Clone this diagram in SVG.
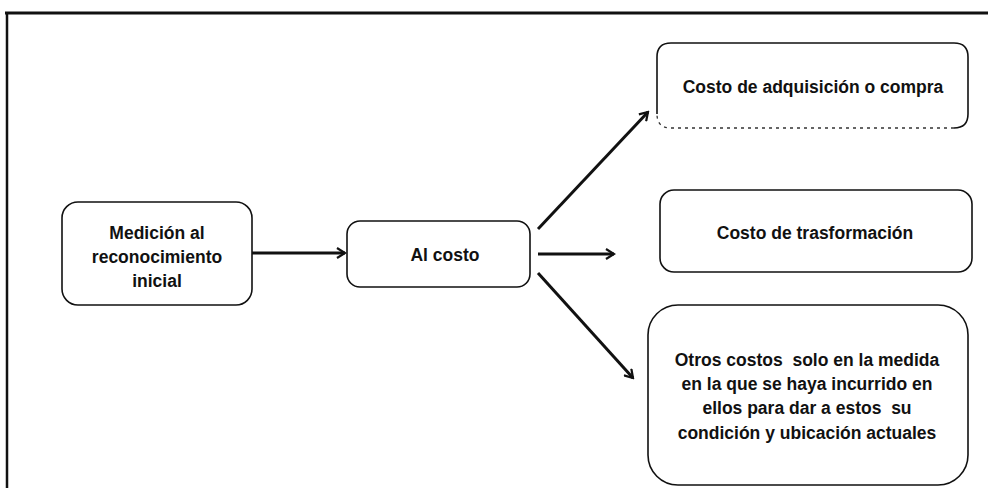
<svg xmlns="http://www.w3.org/2000/svg" width="988" height="488" viewBox="0 0 988 488">
<style>
.box{fill:#fff;stroke:#111;stroke-width:1.6}
.t{font-family:"Liberation Sans",Arial,sans-serif;font-weight:bold;font-size:17.5px;fill:#111;text-anchor:middle;white-space:pre}
.c{stroke:#111;stroke-width:3;fill:none}
</style>
<defs>
<marker id="ah" viewBox="0 0 12 12" refX="10" refY="6" markerWidth="12" markerHeight="12" markerUnits="userSpaceOnUse" orient="auto">
<path d="M2,1 L10,6 L2,11" fill="none" stroke="#111" stroke-width="2.2"/>
</marker>
</defs>
<rect width="988" height="488" fill="#fff"/>
<g id="frame">
<line x1="5" y1="13" x2="988" y2="13" stroke="#111" stroke-width="3"/>
<line x1="7" y1="12" x2="7" y2="488" stroke="#111" stroke-width="2.5"/>
</g>
<g id="n1">
<rect class="box" x="62" y="202" width="190" height="103" rx="16"/>
<text class="t" x="157" y="239">Medición al</text>
<text class="t" x="157" y="263">reconocimiento</text>
<text class="t" x="157" y="287">inicial</text>
</g>
<g id="n2">
<rect class="box" x="347" y="221" width="183" height="66" rx="13"/>
<text class="t" x="445" y="261">Al costo</text>
</g>
<g id="n3">
<path d="M657,114 L657,57 Q657,43 671,43 L954,43 Q968,43 968,57 L968,114 Q968,128 954,128" fill="none" stroke="#111" stroke-width="1.6"/>
<path d="M954,128 L671,128 Q657,128 657,114" fill="none" stroke="#333" stroke-width="1.3" stroke-dasharray="3 4"/>
<text class="t" x="813" y="93">Costo de adquisición o compra</text>
</g>
<g id="n4">
<rect class="box" x="660" y="190" width="312" height="82" rx="14"/>
<text class="t" x="815" y="239">Costo de trasformación</text>
</g>
<g id="n5">
<rect class="box" x="648" y="305" width="320" height="180" rx="30"/>
<text class="t" x="807" y="366">Otros costos  solo en la medida</text>
<text class="t" x="807" y="390">en la que se haya incurrido en</text>
<text class="t" x="807" y="414">ellos para dar a estos  su</text>
<text class="t" x="807" y="439">condición y ubicación actuales</text>
</g>
<g id="connectors">
<line class="c" x1="252" y1="253" x2="345" y2="253" marker-end="url(#ah)"/>
<line class="c" x1="538" y1="229" x2="648" y2="112" marker-end="url(#ah)"/>
<line class="c" x1="538" y1="254" x2="614" y2="254" marker-end="url(#ah)"/>
<line class="c" x1="538" y1="273" x2="633" y2="378" marker-end="url(#ah)"/>
</g>
</svg>
